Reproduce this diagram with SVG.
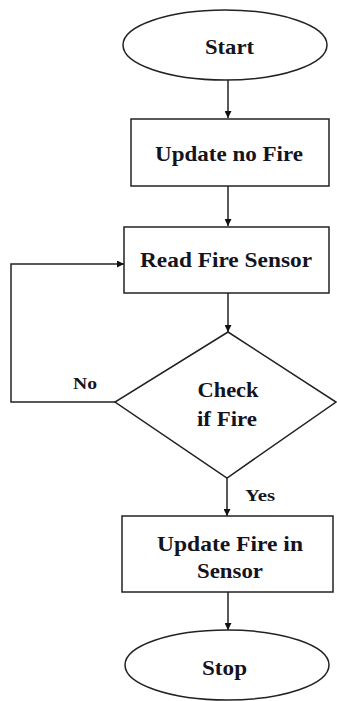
<svg xmlns="http://www.w3.org/2000/svg" width="337" height="701" viewBox="0 0 337 701">
<defs>
<marker id="ah" viewBox="0 0 10 10" refX="10" refY="5" markerWidth="7" markerHeight="7" markerUnits="userSpaceOnUse" orient="auto">
<path d="M0,0 L10,5 L0,10 Z" fill="#111"/>
</marker>
</defs>
<style>
.shape{fill:#fff;stroke:#222;stroke-width:1.5}
.conn{fill:none;stroke:#222;stroke-width:1.5;marker-end:url(#ah)}
.t{font-family:"Liberation Serif","Times New Roman",serif;font-weight:bold;font-size:21px;fill:#141420;text-anchor:middle}
.s{font-size:17px}
</style>
<rect width="337" height="701" fill="#fff"/>
<g id="connectors">
<line class="conn" x1="228" y1="80" x2="228" y2="118"/>
<line class="conn" x1="228" y1="186" x2="228" y2="226"/>
<line class="conn" x1="228" y1="293" x2="228" y2="332"/>
<polyline class="conn" points="115,402 11,402 11,264 124,264"/>
<line class="conn" x1="227" y1="478" x2="227" y2="516"/>
<line class="conn" x1="228" y1="592" x2="228" y2="630"/>
<text class="t s" x="85" y="389" textLength="24" lengthAdjust="spacingAndGlyphs">No</text>
<text class="t s" x="260" y="501" textLength="30" lengthAdjust="spacingAndGlyphs">Yes</text>
</g>
<g id="start">
<ellipse class="shape" cx="225" cy="45" rx="102" ry="35"/>
<text class="t" x="229.5" y="54" textLength="49" lengthAdjust="spacingAndGlyphs">Start</text>
</g>
<g id="update-no-fire">
<rect class="shape" x="131" y="119" width="198" height="67"/>
<text class="t" x="229" y="161" textLength="148" lengthAdjust="spacingAndGlyphs">Update no Fire</text>
</g>
<g id="read-fire-sensor">
<rect class="shape" x="124" y="227" width="205" height="66"/>
<text class="t" x="226" y="267" textLength="172" lengthAdjust="spacingAndGlyphs">Read Fire Sensor</text>
</g>
<g id="check-if-fire">
<polygon class="shape" points="228,332 336,402 227,478 115,402"/>
<text class="t" x="228" y="397" textLength="61" lengthAdjust="spacingAndGlyphs">Check</text>
<text class="t" x="227" y="426" textLength="60" lengthAdjust="spacingAndGlyphs">if Fire</text>
</g>
<g id="update-fire-in-sensor">
<rect class="shape" x="122" y="516" width="211" height="76"/>
<text class="t" x="230" y="551" textLength="146" lengthAdjust="spacingAndGlyphs">Update Fire in</text>
<text class="t" x="230" y="578" textLength="66" lengthAdjust="spacingAndGlyphs">Sensor</text>
</g>
<g id="stop">
<ellipse class="shape" cx="227" cy="665" rx="102" ry="35"/>
<text class="t" x="224.5" y="675" textLength="45" lengthAdjust="spacingAndGlyphs">Stop</text>
</g>
</svg>
